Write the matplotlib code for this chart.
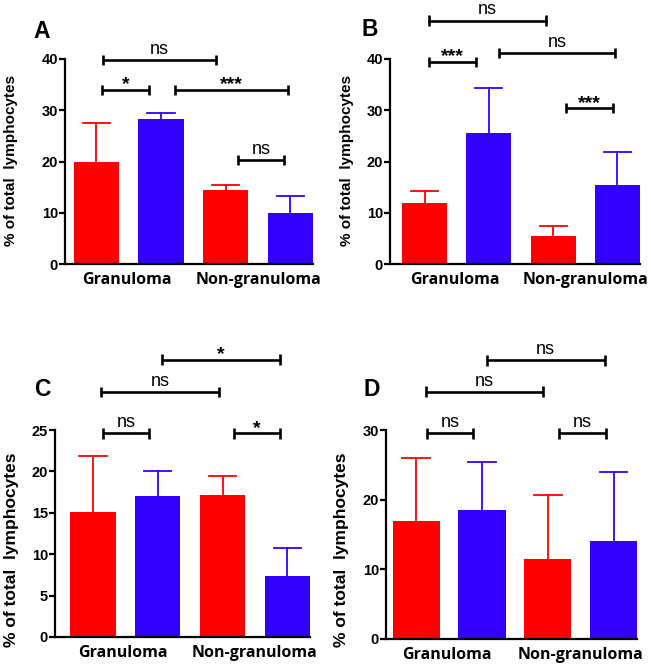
import matplotlib
matplotlib.use("Agg")
import matplotlib.pyplot as plt

W, H = 651, 669

groups = ["Granuloma", "Non-granuloma"]
bar_colors = ["#ff0000", "#3300ff", "#ff0000", "#3300ff"]

# bar means and upper error (mean + SD) per panel
means_a = [20.0, 28.3, 14.4, 10.0]
tops_a = [27.5, 29.4, 15.5, 13.2]
means_b = [11.9, 25.6, 5.5, 15.4]
tops_b = [14.2, 34.3, 7.5, 21.9]
means_c = [15.1, 17.05, 17.1, 7.35]
tops_c = [21.9, 20.0, 19.4, 10.8]
means_d = [16.95, 18.5, 11.55, 14.1]
tops_d = [26.0, 25.4, 20.7, 23.9]

# significance brackets: (x start, x end, height, label)
sig_a = [(0.10, 1.85, 39.8, "ns"), (0.09, 0.82, 34.0, "*"),
         (1.21, 2.96, 34.0, "***"), (2.19, 2.90, 20.3, "ns")]
sig_b = [(0.07, 1.89, 47.5, "ns"), (0.07, 0.80, 39.4, "***"),
         (1.16, 2.96, 41.2, "ns"), (2.20, 2.93, 30.4, "***")]
sig_c = [(1.07, 2.88, 33.5, "*"), (0.13, 1.94, 29.6, "ns"),
         (0.15, 0.87, 24.6, "ns"), (2.17, 2.89, 24.6, "*")]
sig_d = [(1.07, 2.87, 40.0, "ns"), (0.15, 1.93, 35.5, "ns"),
         (0.16, 0.87, 29.5, "ns"), (2.17, 2.88, 29.5, "ns")]

fig = plt.figure(figsize=(W / 100, H / 100), dpi=100)


def px_axes(x0, x1, ytop, ybot):
    return fig.add_axes([x0 / W, 1 - ybot / H, (x1 - x0) / W, (ybot - ytop) / H])


def panel(box, xlim, ymax, ystep, means, tops, sigs, letter, letter_xy,
          ylab_xy, ylab_size, bar_w=0.7):
    ax = px_axes(*box)
    xs = range(len(means))
    ax.bar(xs, means, width=bar_w, color=bar_colors, zorder=2)
    cap = 0.21
    for x, m, t, c in zip(xs, means, tops, bar_colors):
        ax.plot([x, x], [m, t], color=c, lw=1.3, zorder=1)
        ax.plot([x - cap, x + cap], [t, t], color=c, lw=1.3, zorder=1)
    ax.set_xlim(*xlim)
    ax.set_ylim(0, ymax)
    ax.set_yticks(range(0, ymax + 1, ystep))
    ax.spines["top"].set_visible(False)
    ax.spines["right"].set_visible(False)
    ax.spines["left"].set_linewidth(1.6)
    ax.spines["bottom"].set_linewidth(1.6)
    ax.tick_params(axis="y", length=4, width=1.6, labelsize=10.5, pad=1)
    for lab in ax.get_yticklabels():
        lab.set_fontweight("bold")
        lab.set_family("Liberation Sans")
    ax.set_xticks([0.47, 2.5])
    ax.set_xticklabels(groups, fontsize=11.5, fontweight="bold",
                       family="Open Sans")
    ax.tick_params(axis="x", length=0, pad=6)
    ax.set_facecolor("none")
    # brackets
    for x0, x1, y, lab in sigs:
        ax.plot([x0, x1], [y, y], color="black", lw=1.9, clip_on=False,
                solid_capstyle="butt")
        dy = 5.2 / (box[3] - box[2]) * ymax
        for xe in (x0, x1):
            ax.plot([xe, xe], [y - dy, y + dy], color="black", lw=1.9,
                    clip_on=False, solid_capstyle="butt")
        if lab == "ns":
            ax.annotate(lab, ((x0 + x1) / 2, y), xytext=(0, 1.5),
                        textcoords="offset points", ha="center", va="bottom",
                        fontsize=13, family="Liberation Sans",
                        annotation_clip=False)
        else:
            ax.annotate(lab, ((x0 + x1) / 2, y), xytext=(0, -2.5),
                        textcoords="offset points", ha="center", va="bottom",
                        fontsize=14, fontweight="bold",
                        family="Liberation Sans", annotation_clip=False)
    fig.text(letter_xy[0] / W, 1 - letter_xy[1] / H, letter, fontsize=16.5,
             fontweight="bold", family="Liberation Sans", ha="center",
             va="center")
    fig.text(ylab_xy[0] / W, 1 - ylab_xy[1] / H, "% of total  lymphocytes",
             rotation=90, fontsize=ylab_size, fontweight="bold",
             family="Liberation Sans", ha="center", va="center")
    return ax


panel((65, 313, 59, 264), (-0.483, 3.35), 40, 10, means_a, tops_a, sig_a,
      "A", (42, 31), (11, 161), 11)
panel((390, 640, 59, 264), (-0.538, 3.35), 40, 10, means_b, tops_b, sig_b,
      "B", (370, 29), (347, 161), 11)
panel((55, 310, 430, 637), (-0.585, 3.35), 25, 5, means_c, tops_c, sig_c,
      "C", (42, 389), (12, 550), 12.5)
panel((386, 637, 430, 639), (-0.46, 3.357), 30, 10, means_d, tops_d, sig_d,
      "D", (372, 389), (342, 550), 12.5, bar_w=0.715)

fig.savefig("out.png", dpi=100)
